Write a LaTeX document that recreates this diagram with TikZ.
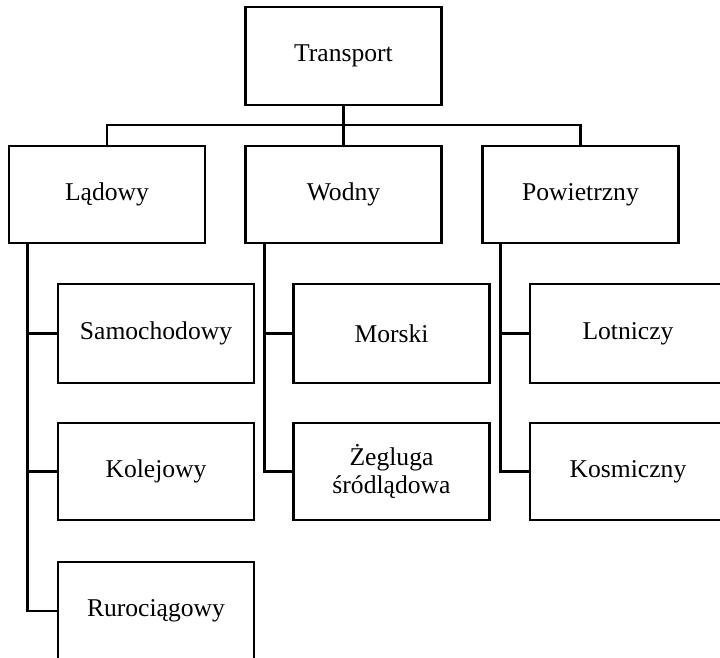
\documentclass[tikz,border=0pt]{standalone}
\usepackage{fontspec}
\setmainfont{Liberation Serif}
\begin{document}
\begin{tikzpicture}[x=1pt,y=-1pt,
  box/.style={draw, line width=2.2pt, minimum width=196pt, minimum height=97pt, inner sep=0pt, align=center, font=\fontsize{25.6}{28}\selectfont},
  conn/.style={line width=2.2pt}]
\useasboundingbox (0,0) rectangle (720,658);
\clip (0,0) rectangle (720,658);
% level 0
\node[box, minimum height=98pt] (t) at (343.5,56) {Transport};
% level 1
\node[box] (l) at (107,194.5) {Lądowy};
\node[box] (w) at (343.5,194.5) {Wodny};
\node[box] (p) at (580.5,194.5) {Powietrzny};
% level 2
\node[box, minimum height=99pt] (s) at (156,333.5) {Samochodowy};
\node[box] (k) at (156,471.5) {Kolejowy};
\node[box, minimum height=98pt] (r) at (156,611) {Rurociągowy};
\node[box, minimum height=99pt] (m) at (391.5,333.5) {Morski};
\node[box] (z) at (391.5,471.5) {Żegluga\\śródlądowa};
\node[box, minimum height=99pt] (lo) at (628,333.5) {Lotniczy};
\node[box] (ko) at (628,471.5) {Kosmiczny};
% connectors
\coordinate (j) at (343.5,125);
\draw[conn] (t.south) -- (w.north);
\draw[conn] (l.north) -- (l.north |- j) -- (p.north |- j) -- (p.north);
\draw[conn] ([xshift=19.5pt]l.south west) |- (r.west);
\draw[conn] ([xshift=19.5pt]l.south west) |- (s.west);
\draw[conn] ([xshift=19.5pt]l.south west) |- (k.west);
\draw[conn] ([xshift=20pt]w.south west) |- (z.west);
\draw[conn] ([xshift=20pt]w.south west) |- (m.west);
\draw[conn] ([xshift=19pt]p.south west) |- (ko.west);
\draw[conn] ([xshift=19pt]p.south west) |- (lo.west);
\end{tikzpicture}
\end{document}
